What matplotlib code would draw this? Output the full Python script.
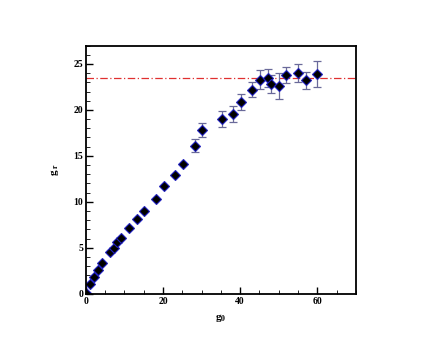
import matplotlib
matplotlib.use("Agg")
import matplotlib.pyplot as plt
from matplotlib.ticker import MultipleLocator

# measured points without error bars
g0_low = [0, 1.2, 2.2, 3.2, 4.1, 6.2, 7.2, 8.2, 9.1, 11.2, 13.2, 15.2, 18.2, 20.2, 23.2, 25.2]
gr_low = [0.1, 1.1, 1.8, 2.6, 3.3, 4.5, 5.0, 5.6, 6.1, 7.1, 8.1, 9.0, 10.3, 11.7, 12.9, 14.1]

# points with error bars
g0_high = [28.2, 30.2, 35.2, 38.1, 40.1, 43.1, 45.1, 47.1, 48.1, 50.1, 52.0, 55.0, 57.0, 60.0]
gr_high = [16.1, 17.8, 19.0, 19.6, 20.9, 22.2, 23.3, 23.45, 22.8, 22.6, 23.8, 24.0, 23.2, 23.9]
gr_err = [0.7, 0.8, 0.9, 0.87, 0.87, 0.85, 1.0, 1.0, 1.0, 1.4, 0.9, 1.0, 0.9, 1.45]

gr_sat = 23.5

plt.rcParams['font.family'] = ['Liberation Serif', 'DejaVu Serif']
plt.rcParams['font.weight'] = 'bold'
plt.rcParams['mathtext.fontset'] = 'stix'

fig = plt.figure(figsize=(4.4, 3.4), dpi=100)
ax = fig.add_axes([0.195, 0.136, 0.614, 0.730])

ax.axhline(gr_sat, color='#e03030', lw=0.9, ls='-.', dashes=(6, 2, 1, 2))

ax.errorbar(g0_high, gr_high, yerr=gr_err, fmt='none', ecolor='#6a6a9a',
            elinewidth=0.9, capsize=3, capthick=0.9)
mk = dict(ls='none', marker='D', ms=4.6, mfc='black', mec='#2020c0', mew=0.8)
ax.plot(g0_low, gr_low, **mk)
ax.plot(g0_high, gr_high, **mk)

ax.set_xlim(0, 70)
ax.set_ylim(0, 27)
ax.xaxis.set_major_locator(MultipleLocator(20))
ax.xaxis.set_minor_locator(MultipleLocator(5))
ax.yaxis.set_major_locator(MultipleLocator(5))
ax.yaxis.set_minor_locator(MultipleLocator(1))
ax.tick_params(which='both', direction='in', top=False, right=False, labelsize=7, pad=2)
ax.tick_params(which='major', length=5, width=1)
ax.tick_params(which='minor', length=3, width=0.6)
for sp in ax.spines.values():
    sp.set_linewidth(1.3)

ax.set_xlabel(r'g$_\mathbf{0}$', fontsize=8, fontweight='bold', labelpad=5)
ax.set_ylabel(r'g$_\mathbf{\ r}$', fontsize=8, fontweight='bold', labelpad=9)

fig.savefig('out.png', dpi=100)
